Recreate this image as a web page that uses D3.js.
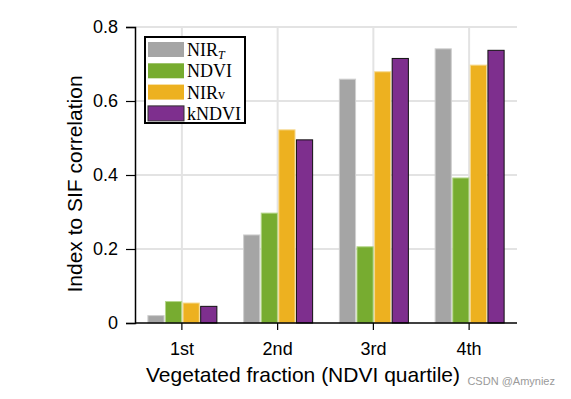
<!DOCTYPE html>
<html>
<head>
<meta charset="utf-8">
<script src="https://cdn.jsdelivr.net/npm/d3@7"></script>
<style>
  body { margin: 0; background: #fff; }
  text { font-family: "Liberation Sans", Arial, sans-serif; }
</style>
</head>
<body>
<div id="chart"></div>
<script>
// quartiles on the x axis
const quartiles = ['1st', '2nd', '3rd', '4th'];
// one array per index
const nirT = [0.020, 0.238, 0.659, 0.741];
const ndvi = [0.058, 0.297, 0.206, 0.392];
const nirv = [0.054, 0.522, 0.679, 0.697];
const kndvi = [0.045, 0.495, 0.715, 0.737];
const yTicks = [0, 0.2, 0.4, 0.6, 0.8];

const series = [
    { key: 'NIRT', values: nirT, fill: '#a5a5a5', stroke: '#cfcfcf' },
    { key: 'NDVI', values: ndvi, fill: '#77ac30', stroke: '#b5d68a' },
    { key: 'NIRv', values: nirv, fill: '#edb120', stroke: '#f6d98e' },
    { key: 'kNDVI', values: kndvi, fill: '#7e2f8e', stroke: '#111' }
];

const width = 571, height = 399;
const svg = d3.select('#chart')
    .append('svg')
    .attr('width', width)
    .attr('height', height);

const x = d3.scaleBand().domain(quartiles).range([134, 517]);
const inner = d3.scaleBand().domain(series.map(s => s.key)).range([-34, 35]).paddingInner(0.08);
const y = d3.scaleLinear().domain([0, 0.8]).range([323, 27]);
const xc = q => x(q) + x.bandwidth() / 2;

// grid
svg.append('g')
    .selectAll('line')
    .data(yTicks.filter(d => d > 0))
    .join('line')
    .attr('x1', 135).attr('x2', 517)
    .attr('y1', d => y(d)).attr('y2', d => y(d))
    .attr('stroke', '#e3e3e3').attr('stroke-width', 2);

svg.append('g')
    .selectAll('line')
    .data(quartiles)
    .join('line')
    .attr('x1', d => xc(d)).attr('x2', d => xc(d))
    .attr('y1', y(0.8)).attr('y2', y(0))
    .attr('stroke', '#e3e3e3').attr('stroke-width', 2);

// bars
series.forEach(s => {
    svg.append('g')
        .selectAll('rect')
        .data(s.values.map((v, i) => ({ q: quartiles[i], v: v })))
        .join('rect')
        .attr('x', d => xc(d.q) + inner(s.key))
        .attr('y', d => y(d.v))
        .attr('width', inner.bandwidth())
        .attr('height', d => y(0) - y(d.v))
        .attr('fill', s.fill)
        .attr('stroke', s.stroke)
        .attr('stroke-width', 1);
});

// axes
const yAxis = svg.append('g')
    .attr('transform', 'translate(135,0)')
    .call(d3.axisLeft(y).tickValues(yTicks).tickSize(9).tickPadding(8)
        .tickFormat(d => d === 0 ? '0' : d3.format('.1f')(d)));
yAxis.select('.domain').attr('stroke', '#000').attr('stroke-width', 1.5);
yAxis.selectAll('.tick line').attr('stroke', '#000').attr('stroke-width', 1.2);
yAxis.selectAll('text').attr('font-size', 18).attr('fill', '#000')
    .style('font-family', '"Liberation Sans", Arial, sans-serif');

const xAxis = svg.append('g')
    .attr('transform', `translate(0,${y(0)})`)
    .call(d3.axisBottom(x).tickSizeInner(7).tickSizeOuter(0).tickPadding(0));
xAxis.select('.domain').attr('stroke', '#000').attr('stroke-width', 1.5)
    .attr('d', 'M135,0H517');
xAxis.selectAll('.tick line').attr('stroke', '#000').attr('stroke-width', 1.2);
xAxis.selectAll('text').attr('font-size', 18).attr('fill', '#000')
    .attr('dy', null).attr('y', 32)
    .style('font-family', '"Liberation Sans", Arial, sans-serif');

// axis titles
svg.append('text')
    .attr('transform', `translate(82,184) rotate(-90)`)
    .attr('text-anchor', 'middle')
    .attr('font-size', 21)
    .text('Index to SIF correlation');

svg.append('text')
    .attr('x', 303).attr('y', 382)
    .attr('text-anchor', 'middle')
    .attr('font-size', 21)
    .text('Vegetated fraction (NDVI quartile)');

// legend
const legend = svg.append('g').attr('transform', 'translate(145,37)');
legend.append('rect')
    .attr('width', 100).attr('height', 86)
    .attr('fill', '#fff').attr('stroke', '#000').attr('stroke-width', 2);

const rows = legend.selectAll('g.row')
    .data(series)
    .join('g')
    .attr('class', 'row')
    .attr('transform', (d, i) => `translate(3,${5 + i * 21.3})`);

rows.append('rect')
    .attr('width', 36).attr('height', 15)
    .attr('fill', d => d.fill)
    .attr('stroke', d => d.key === 'kNDVI' ? '#333' : 'none')
    .attr('stroke-width', 1);

const labels = rows.append('text')
    .attr('x', 39).attr('y', 14)
    .attr('font-size', 18)
    .style('font-family', '"Liberation Serif", "Times New Roman", serif');

labels.each(function(d) {
    const t = d3.select(this);
    if (d.key === 'NIRT') {
        t.append('tspan').text('NIR');
        t.append('tspan').attr('dy', 3).attr('font-size', 12).attr('font-style', 'italic').text('T');
    } else if (d.key === 'NIRv') {
        t.append('tspan').text('NIR');
        t.append('tspan').attr('font-size', 14).text('v');
    } else {
        t.text(d.key);
    }
});

// watermark
svg.append('text')
    .attr('x', 555).attr('y', 385)
    .attr('text-anchor', 'end')
    .attr('font-size', 11)
    .attr('fill', '#9a9a9a')
    .text('CSDN @Amyniez');
</script>
</body>
</html>
